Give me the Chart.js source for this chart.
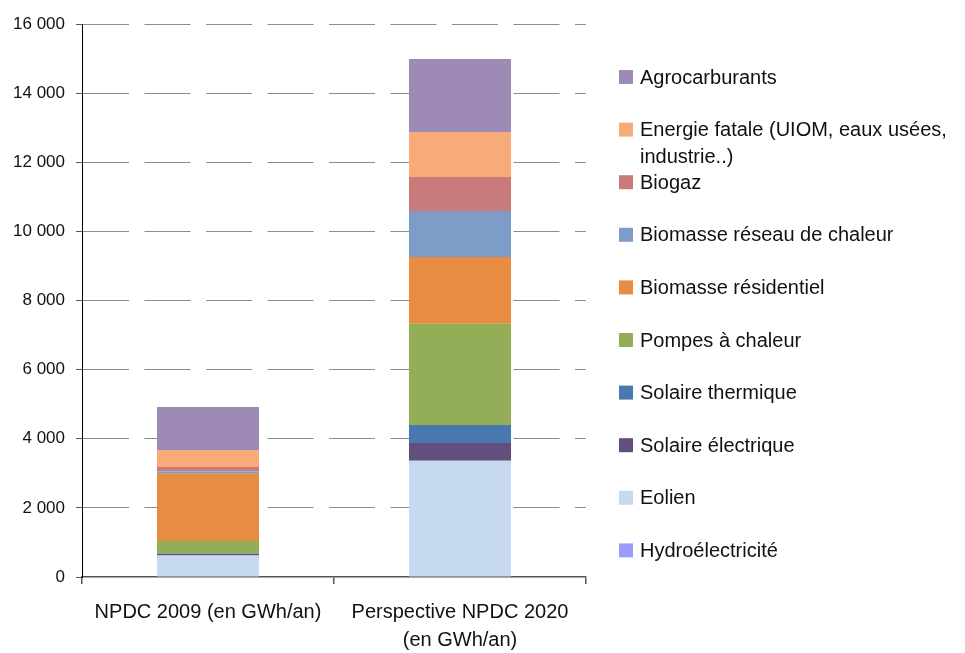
<!DOCTYPE html>
<html>
<head>
<meta charset="utf-8">
<script src="https://cdn.jsdelivr.net/npm/chart.js@4"></script>
<style>
  body { margin: 0; background: #fff; }
  canvas { display: block; }
</style>
</head>
<body>
<canvas id="energyChart" width="965" height="653"></canvas>
<script>
// categories (x axis)
const categories = [
    "NPDC 2009 (en GWh/an)",
    ["Perspective NPDC 2020", "(en GWh/an)"]
];

// y tick labels
const yTickLabels = ["0", "2 000", "4 000", "6 000", "8 000", "10 000", "12 000", "14 000", "16 000"];

// series values, bottom of the stack first (GWh/an)
const hydro = [0, 0];
const eolien = [620, 3360];
const solaireElec = [50, 520];
const solaireTherm = [10, 520];
const pompes = [360, 2930];
const biomasseResid = [1950, 1930];
const biomasseReseau = [60, 1330];
const biogaz = [135, 985];
const energieFatale = [490, 1300];
const agrocarburants = [1245, 2110];

const seriesNames = [
    "Hydroélectricité",
    "Eolien",
    "Solaire électrique",
    "Solaire thermique",
    "Pompes à chaleur",
    "Biomasse résidentiel",
    "Biomasse réseau de chaleur",
    "Biogaz",
    ["Energie fatale (UIOM, eaux usées,", "industrie..)"],
    "Agrocarburants"
];

const seriesValues = [hydro, eolien, solaireElec, solaireTherm, pompes,
    biomasseResid, biomasseReseau, biogaz, energieFatale, agrocarburants];

const seriesColors = [
    "#9B9BFB",
    "#C6D9F0",
    "#624F7D",
    "#4878AF",
    "#93AE56",
    "#E78C40",
    "#7E9CC8",
    "#C97B7B",
    "#F8AA79",
    "#9D8BB6"
];

const FONT = "'Liberation Sans', Arial, sans-serif";

// legend drawn at the right of the plot, top entry = top of the stack
const sideLegend = {
    id: "sideLegend",
    afterDraw(chart) {
        const ctx = chart.ctx;
        const x = chart.chartArea.right + 33;
        const y0 = 77;
        const step = 52.6;
        const datasets = chart.data.datasets.slice().reverse();
        ctx.save();
        ctx.font = "20px " + FONT;
        ctx.textBaseline = "middle";
        ctx.textAlign = "left";
        datasets.forEach((ds, i) => {
            const y = y0 + i * step;
            ctx.fillStyle = ds.backgroundColor;
            ctx.fillRect(x, y - 7, 14, 14);
            ctx.fillStyle = "#111";
            const lines = Array.isArray(ds.label) ? ds.label : [ds.label];
            lines.forEach((line, j) => {
                ctx.fillText(line, x + 21, y + 1 + j * 27);
            });
        });
        ctx.restore();
    }
};

new Chart(document.getElementById("energyChart"), {
    type: "bar",
    data: {
        labels: categories,
        datasets: seriesNames.map((name, i) => ({
            label: name,
            data: seriesValues[i],
            backgroundColor: seriesColors[i],
            borderWidth: 0,
            categoryPercentage: 1,
            barPercentage: 0.405
        }))
    },
    options: {
        responsive: false,
        animation: false,
        layout: {
            padding: { top: 24, right: 379, left: 0, bottom: 0 }
        },
        plugins: {
            legend: { display: false },
            tooltip: { enabled: false }
        },
        scales: {
            x: {
                stacked: true,
                afterFit: (s) => { s.height = 76; },
                grid: {
                    offset: true,
                    drawOnChartArea: false,
                    tickLength: 7,
                    color: "#555",
                    lineWidth: 1.5
                },
                border: { color: "#555", width: 1.5 },
                ticks: {
                    padding: 14,
                    maxRotation: 0,
                    color: "#111",
                    font: { family: FONT, size: 20, lineHeight: 1.4 }
                }
            },
            y: {
                stacked: true,
                min: 0,
                max: 16000,
                afterFit: (s) => { s.width = 82; },
                grid: {
                    color: (c) => c.index === 0 ? "rgba(0,0,0,0)" : "#8C8C8C",
                    tickColor: "#555",
                    tickLength: 6
                },
                border: { color: "#000", width: 1, dash: [46, 15.5] },
                ticks: {
                    stepSize: 2000,
                    padding: 11,
                    color: "#111",
                    font: { family: FONT, size: 17 },
                    callback: (value, index) => yTickLabels[index]
                }
            }
        }
    },
    plugins: [sideLegend]
});
</script>
</body>
</html>
